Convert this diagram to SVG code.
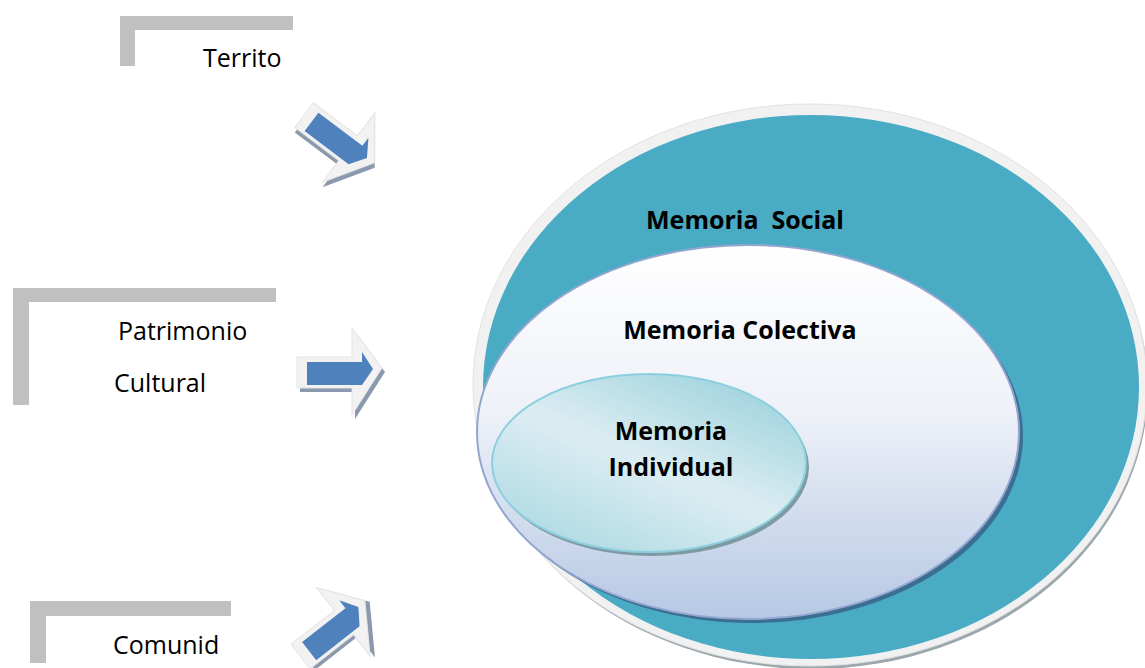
<svg xmlns="http://www.w3.org/2000/svg" width="1145" height="668" viewBox="0 0 1145 668">
<style>
.lbl{font-family:"Open Sans","Liberation Sans",sans-serif;font-size:25px;fill:#000}
.bold{font-family:"Open Sans","Liberation Sans",sans-serif;font-size:25px;font-weight:bold;fill:#000;white-space:pre}
.bracket{fill:#c0c0c0}
</style>
<defs>
<linearGradient id="gCol" x1="0" y1="0" x2="0" y2="1">
<stop offset="0" stop-color="#ffffff"/>
<stop offset="0.45" stop-color="#eef1f8"/>
<stop offset="1" stop-color="#b6c8e4"/>
</linearGradient>
<linearGradient id="gInd" x1="0.2" y1="0.9" x2="0.8" y2="0.1">
<stop offset="0" stop-color="#b4dce5"/>
<stop offset="0.5" stop-color="#dcedf2"/>
<stop offset="1" stop-color="#a6d6e0"/>
</linearGradient>
<g id="arrow">
<polygon points="-43,-13 12,-13 12,-42 42,-2 12,45 12,18 -43,18" fill="#8a99ad" transform="translate(3,4)"/>
<polygon points="-43,-13 12,-13 12,-42 42,-2 12,45 12,18 -43,18" fill="#f2f2f2" stroke="#e4e4e4" stroke-width="1"/>
<polygon points="-33,-8 22,-8 22,-18 33,-1 22,15 -33,15" fill="#4f81bd"/>
</g>
</defs>

<g id="territo">
<path class="bracket" d="M120,16 H293 V30 H135 V66 H120 Z"/>
<text class="lbl" x="203" y="67">Territo</text>
</g>
<g id="patrimonio">
<path class="bracket" d="M13,288 H276 V302 H29 V405 H13 Z"/>
<text class="lbl" x="118" y="340">Patrimonio</text>
<text class="lbl" x="114" y="392">Cultural</text>
</g>
<g id="comunidad">
<path class="bracket" d="M30,601 H231 V616 H46 V663 H30 Z"/>
<text class="lbl" x="113" y="654">Comunid</text>
</g>

<g id="connectors">
<use href="#arrow" transform="translate(340,139) rotate(37)"/>
<use href="#arrow" transform="translate(340,370)"/>
<use href="#arrow" transform="translate(333,628) rotate(-38)"/>
</g>

<g id="memoria-social">
<ellipse cx="812" cy="388" rx="336" ry="281" fill="#9aa8ae"/>
<ellipse cx="810" cy="385" rx="337" ry="281" fill="#f1f1f1" stroke="#e2e2e2" stroke-width="1"/>
<ellipse cx="811" cy="387" rx="328" ry="272" fill="#4aabc5"/>
<text class="bold" x="745" y="229" text-anchor="middle" xml:space="preserve">Memoria  Social</text>
</g>
<g id="memoria-colectiva">
<ellipse cx="752" cy="436" rx="271" ry="187" fill="#3a6f92"/>
<ellipse cx="748" cy="432" rx="271" ry="187" fill="url(#gCol)" stroke="#94a6cf" stroke-width="2"/>
<text class="bold" x="740" y="339" text-anchor="middle">Memoria Colectiva</text>
</g>
<g id="memoria-individual">
<ellipse cx="652" cy="467" rx="157" ry="89" fill="#7e9aa3"/>
<ellipse cx="649" cy="463" rx="157" ry="89" fill="url(#gInd)" stroke="#8ccfde" stroke-width="2"/>
<text class="bold" x="671" y="440" text-anchor="middle">Memoria</text>
<text class="bold" x="671" y="476" text-anchor="middle">Individual</text>
</g>
</svg>
